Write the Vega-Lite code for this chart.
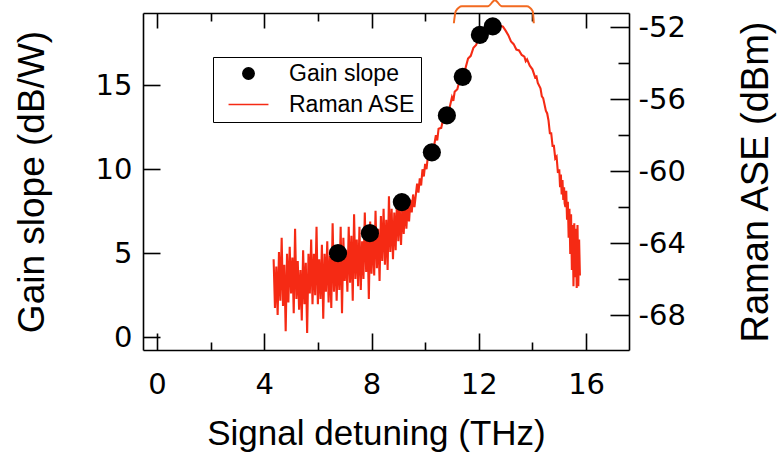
{
  "$schema": "https://vega.github.io/schema/vega-lite/v6.json",
  "width": 486,
  "height": 337,
  "autosize": {"type": "none"},
  "padding": {"left": 143, "top": 13, "right": 151, "bottom": 116},
  "background": "white",
  "config": {
    "view": {"stroke": null},
    "axis": {
      "grid": false,
      "domainColor": "#000000",
      "domainWidth": 1.6,
      "tickColor": "#000000",
      "tickWidth": 1.6,
      "labelFont": "DejaVu Sans",
      "labelFontSize": 29,
      "labelColor": "#000000",
      "titleFont": "Liberation Sans",
      "titleFontWeight": "normal",
      "titleColor": "#000000"
    }
  },
  "datasets": {
    "gain": [
      {"f": 6.75, "g": 5.0},
      {"f": 7.94, "g": 6.19},
      {"f": 9.13, "g": 8.04},
      {"f": 10.25, "g": 11.0},
      {"f": 10.81, "g": 13.2},
      {"f": 11.4, "g": 15.5},
      {"f": 12.04, "g": 18.0},
      {"f": 12.52, "g": 18.5}
    ],
    "brace": [
      {"f": 11.07, "g": 18.69},
      {"f": 11.14, "g": 19.4},
      {"f": 11.37, "g": 19.7},
      {"f": 12.34, "g": 19.7},
      {"f": 12.6, "g": 20.06},
      {"f": 12.86, "g": 19.7},
      {"f": 13.79, "g": 19.7},
      {"f": 14.01, "g": 19.4},
      {"f": 14.05, "g": 18.69}
    ],
    "ase": [
      {"f": 4.35, "p": -64.9}, {"f": 4.40, "p": -67.6}, {"f": 4.45, "p": -65.3}, {"f": 4.50, "p": -68.0},
      {"f": 4.55, "p": -64.5}, {"f": 4.60, "p": -67.2}, {"f": 4.65, "p": -63.7}, {"f": 4.70, "p": -67.5},
      {"f": 4.75, "p": -65.2}, {"f": 4.80, "p": -68.9}, {"f": 4.85, "p": -64.6}, {"f": 4.90, "p": -67.3},
      {"f": 4.95, "p": -64.2}, {"f": 5.00, "p": -66.8}, {"f": 5.05, "p": -64.8}, {"f": 5.10, "p": -67.9},
      {"f": 5.15, "p": -63.2}, {"f": 5.20, "p": -67.1}, {"f": 5.25, "p": -65.0}, {"f": 5.30, "p": -67.7},
      {"f": 5.35, "p": -65.5}, {"f": 5.40, "p": -68.3}, {"f": 5.45, "p": -64.4}, {"f": 5.50, "p": -67.4},
      {"f": 5.55, "p": -65.1}, {"f": 5.60, "p": -69.0}, {"f": 5.65, "p": -64.6}, {"f": 5.70, "p": -66.8},
      {"f": 5.75, "p": -63.8}, {"f": 5.80, "p": -67.4}, {"f": 5.85, "p": -64.6}, {"f": 5.90, "p": -66.9},
      {"f": 5.95, "p": -63.1}, {"f": 6.00, "p": -67.4}, {"f": 6.05, "p": -64.9}, {"f": 6.10, "p": -67.1},
      {"f": 6.15, "p": -64.1}, {"f": 6.20, "p": -68.2}, {"f": 6.25, "p": -64.6}, {"f": 6.30, "p": -66.7},
      {"f": 6.35, "p": -63.9}, {"f": 6.40, "p": -67.3}, {"f": 6.45, "p": -64.7}, {"f": 6.50, "p": -67.6},
      {"f": 6.55, "p": -62.9}, {"f": 6.60, "p": -66.7}, {"f": 6.65, "p": -64.2}, {"f": 6.70, "p": -67.2},
      {"f": 6.75, "p": -64.4}, {"f": 6.80, "p": -66.6}, {"f": 6.85, "p": -63.1}, {"f": 6.90, "p": -67.9},
      {"f": 6.95, "p": -63.7}, {"f": 7.00, "p": -66.1}, {"f": 7.05, "p": -64.4}, {"f": 7.10, "p": -66.7},
      {"f": 7.15, "p": -63.1}, {"f": 7.20, "p": -66.2}, {"f": 7.25, "p": -63.6}, {"f": 7.30, "p": -67.2},
      {"f": 7.35, "p": -62.4}, {"f": 7.40, "p": -66.0}, {"f": 7.45, "p": -63.8}, {"f": 7.50, "p": -66.4},
      {"f": 7.55, "p": -63.1}, {"f": 7.60, "p": -66.6}, {"f": 7.65, "p": -63.9}, {"f": 7.70, "p": -66.0},
      {"f": 7.75, "p": -62.3}, {"f": 7.80, "p": -65.6}, {"f": 7.85, "p": -63.3}, {"f": 7.90, "p": -67.1},
      {"f": 7.95, "p": -62.8}, {"f": 8.00, "p": -65.7}, {"f": 8.05, "p": -63.2}, {"f": 8.10, "p": -65.8},
      {"f": 8.15, "p": -62.2}, {"f": 8.20, "p": -65.4}, {"f": 8.25, "p": -63.2}, {"f": 8.30, "p": -66.1},
      {"f": 8.35, "p": -62.5}, {"f": 8.40, "p": -65.0}, {"f": 8.45, "p": -62.1}, {"f": 8.50, "p": -65.2},
      {"f": 8.55, "p": -62.7}, {"f": 8.60, "p": -65.5}, {"f": 8.65, "p": -61.4}, {"f": 8.70, "p": -64.5},
      {"f": 8.75, "p": -62.1}, {"f": 8.80, "p": -64.9}, {"f": 8.85, "p": -62.3}, {"f": 8.90, "p": -64.4},
      {"f": 8.95, "p": -61.6}, {"f": 9.00, "p": -63.9}, {"f": 9.05, "p": -61.9}, {"f": 9.10, "p": -64.1},
      {"f": 9.15, "p": -61.9}, {"f": 9.20, "p": -63.5}, {"f": 9.25, "p": -61.8}, {"f": 9.30, "p": -63.2},
      {"f": 9.35, "p": -61.8}, {"f": 9.40, "p": -62.8}, {"f": 9.45, "p": -61.6}, {"f": 9.50, "p": -62.3},
      {"f": 9.55, "p": -61.3}, {"f": 9.60, "p": -62.0}, {"f": 9.70, "p": -60.7}, {"f": 9.75, "p": -61.2},
      {"f": 9.80, "p": -60.4}, {"f": 9.85, "p": -60.8}, {"f": 9.90, "p": -59.9}, {"f": 9.95, "p": -60.3},
      {"f": 10.00, "p": -59.6}, {"f": 10.05, "p": -59.9}, {"f": 10.10, "p": -59.2}, {"f": 10.20, "p": -59.2},
      {"f": 10.25, "p": -58.6}, {"f": 10.30, "p": -58.9}, {"f": 10.40, "p": -58.0}, {"f": 10.45, "p": -58.3},
      {"f": 10.50, "p": -57.65}, {"f": 10.60, "p": -57.6}, {"f": 10.70, "p": -56.9}, {"f": 10.75, "p": -57.15},
      {"f": 10.80, "p": -56.65}, {"f": 10.90, "p": -56.55}, {"f": 11.00, "p": -55.9}, {"f": 11.05, "p": -56.1},
      {"f": 11.10, "p": -55.6}, {"f": 11.20, "p": -55.45}, {"f": 11.30, "p": -54.85}, {"f": 11.35, "p": -55.0},
      {"f": 11.40, "p": -54.5}, {"f": 11.50, "p": -54.3}, {"f": 11.60, "p": -53.75}, {"f": 11.70, "p": -53.6},
      {"f": 11.80, "p": -53.15}, {"f": 11.90, "p": -53.0}, {"f": 12.00, "p": -52.6}, {"f": 12.10, "p": -52.55},
      {"f": 12.20, "p": -52.3}, {"f": 12.30, "p": -52.3}, {"f": 12.40, "p": -52.15}, {"f": 12.50, "p": -52.12},
      {"f": 12.60, "p": -52.0}, {"f": 12.70, "p": -51.98}, {"f": 12.80, "p": -51.92}, {"f": 12.90, "p": -51.98},
      {"f": 13.00, "p": -52.2}, {"f": 13.10, "p": -52.45}, {"f": 13.20, "p": -52.8}, {"f": 13.30, "p": -52.95},
      {"f": 13.40, "p": -53.25}, {"f": 13.50, "p": -53.3}, {"f": 13.60, "p": -53.55}, {"f": 13.70, "p": -53.65},
      {"f": 13.75, "p": -53.9}, {"f": 13.80, "p": -53.8}, {"f": 13.90, "p": -54.15}, {"f": 14.00, "p": -54.35},
      {"f": 14.10, "p": -54.8}, {"f": 14.15, "p": -54.75}, {"f": 14.20, "p": -55.1}, {"f": 14.30, "p": -55.4},
      {"f": 14.35, "p": -55.85}, {"f": 14.40, "p": -55.95}, {"f": 14.50, "p": -56.65}, {"f": 14.55, "p": -56.8},
      {"f": 14.60, "p": -57.2}, {"f": 14.65, "p": -57.9}, {"f": 14.70, "p": -57.9}, {"f": 14.75, "p": -58.6},
      {"f": 14.80, "p": -58.6}, {"f": 14.85, "p": -59.3}, {"f": 14.90, "p": -59.2}, {"f": 14.95, "p": -60.1},
      {"f": 15.00, "p": -59.9}, {"f": 15.03, "p": -60.9}, {"f": 15.06, "p": -60.2}, {"f": 15.09, "p": -61.3},
      {"f": 15.12, "p": -60.5}, {"f": 15.15, "p": -61.6}, {"f": 15.18, "p": -60.9}, {"f": 15.20, "p": -61.8},
      {"f": 15.23, "p": -62.0}, {"f": 15.26, "p": -61.1}, {"f": 15.29, "p": -62.7}, {"f": 15.32, "p": -61.7},
      {"f": 15.35, "p": -63.7}, {"f": 15.38, "p": -62.1}, {"f": 15.41, "p": -64.6}, {"f": 15.44, "p": -62.4},
      {"f": 15.47, "p": -65.5}, {"f": 15.50, "p": -63.0}, {"f": 15.53, "p": -66.4}, {"f": 15.56, "p": -62.9},
      {"f": 15.59, "p": -65.9}, {"f": 15.62, "p": -63.2}, {"f": 15.65, "p": -66.5}, {"f": 15.68, "p": -63.0},
      {"f": 15.71, "p": -66.4}, {"f": 15.74, "p": -63.8}, {"f": 15.77, "p": -65.8}
    ]
  },
  "layer": [
    {
      "data": {"name": "ase"},
      "mark": {"type": "line", "strokeWidth": 2.1, "color": "#f52a14"},
      "encoding": {
        "x": {
          "field": "f", "type": "quantitative",
          "scale": {"domain": [-0.52, 17.6], "nice": false, "zero": false},
          "axis": {
            "orient": "top",
            "values": [0, 2, 4, 6, 8, 10, 12, 14, 16],
            "labels": false,
            "title": null,
            "tickSize": {"condition": {"test": "datum.value % 4 == 0", "value": -15}, "value": -8}
          }
        },
        "y": {
          "field": "p", "type": "quantitative",
          "scale": {"domain": [-69.94, -51.22], "nice": false, "zero": false},
          "axis": {
            "orient": "right",
            "values": [-68, -66, -64, -62, -60, -58, -56, -54, -52],
            "labelExpr": "(datum.value + 52) % 4 == 0 ? '' + datum.value : ''",
            "tickSize": {"condition": {"test": "(datum.value + 52) % 4 == 0", "value": -19}, "value": -11},
            "labelPadding": 28,
            "title": "Raman ASE (dBm)",
            "titleAngle": 270,
            "titleFontSize": 38,
            "titlePadding": 90
          }
        },
        "color": {"datum": "Raman ASE"}
      }
    },
    {
      "layer": [
        {
          "data": {"name": "gain"},
          "mark": {"type": "point", "filled": true, "size": 330, "opacity": 1},
          "encoding": {
            "x": {
              "field": "f", "type": "quantitative",
              "scale": {"domain": [-0.52, 17.6], "nice": false, "zero": false},
              "axis": {
                "orient": "bottom",
                "values": [0, 2, 4, 6, 8, 10, 12, 14, 16],
                "labelExpr": "datum.value % 4 == 0 ? datum.label : ''",
                "tickSize": {"condition": {"test": "datum.value % 4 == 0", "value": -17}, "value": -8},
                "labelPadding": 37,
                "title": "Signal detuning (THz)",
                "titleFontSize": 35,
                "titlePadding": 17,
                "titleX": 233
              }
            },
            "y": {
              "field": "g", "type": "quantitative",
              "scale": {"domain": [-0.77, 19.3], "nice": false, "zero": false},
              "axis": {
                "orient": "left",
                "values": [0, 5, 10, 15],
                "tickSize": -17,
                "labelPadding": 28,
                "title": "Gain slope (dB/W)",
                "titleFontSize": 37,
                "titlePadding": 44
              }
            },
            "color": {
              "datum": "Gain slope",
              "scale": {"domain": ["Gain slope", "Raman ASE"], "range": ["#000000", "#f52a14"]},
              "legend": {
                "orient": "none", "legendX": 70, "legendY": 44, "title": null,
                "strokeColor": "#000000", "fillColor": "#ffffff", "padding": 5,
                "labelFont": "Liberation Sans", "labelFontSize": 23, "labelColor": "#000000",
                "symbolSize": 130, "symbolOffset": 19, "labelOffset": 29, "rowPadding": 7,
                "symbolStrokeWidth": 1.5,
                "encode": {"symbols": {"update": {"stroke": {"scale": "color", "field": "value"}, "opacity": {"value": 1}}}}
              }
            },
            "shape": {
              "datum": "Gain slope",
              "scale": {"domain": ["Gain slope", "Raman ASE"], "range": ["circle", "M-3.5,0H3.5"]},
              "legend": {
                "orient": "none", "legendX": 70, "legendY": 44, "title": null,
                "strokeColor": "#000000", "fillColor": "#ffffff", "padding": 5,
                "labelFont": "Liberation Sans", "labelFontSize": 23, "labelColor": "#000000",
                "symbolSize": 130, "symbolOffset": 19, "labelOffset": 29, "rowPadding": 7,
                "symbolStrokeWidth": 1.5
              }
            }
          }
        },
        {
          "data": {"name": "brace"},
          "mark": {"type": "line", "color": "#f26a21", "strokeWidth": 2, "interpolate": "monotone", "clip": false},
          "encoding": {
            "x": {"field": "f", "type": "quantitative"},
            "y": {"field": "g", "type": "quantitative"}
          }
        }
      ]
    }
  ],
  "resolve": {"scale": {"x": "independent", "y": "independent"}}
}
